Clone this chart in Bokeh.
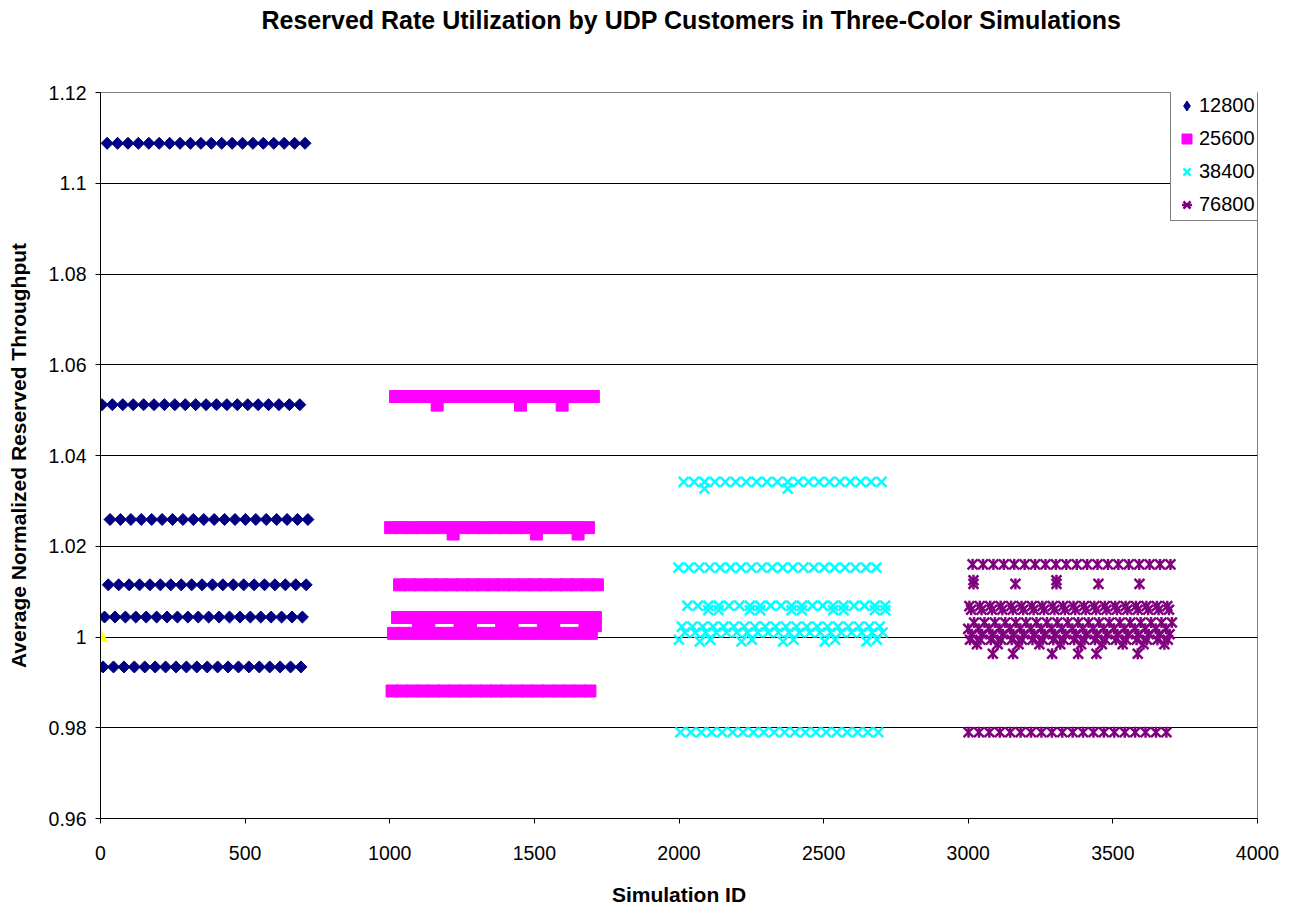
from bokeh.plotting import figure
from bokeh.models import (Range1d, FixedTicker, Legend, LegendItem, ColumnDataSource,
                          CustomJSTickFormatter, Title, CDSView, IndexFilter)
from bokeh.embed import file_html
from bokeh.resources import INLINE
import math

# ---------------- data ----------------
# simulation-ID grid inside one block (20 simulations per parameter line)
BASE_IDS = [0, 36, 72, 108, 144, 180, 216, 252, 288, 324,
            360, 396, 432, 468, 504, 540, 576, 612, 648, 684]

# 12800: (first simulation id, average normalized reserved throughput)
s12800_start = [23, 5, 33, 27, 14, 9]
s12800_value = [1.1088, 1.0512, 1.0259, 1.0115, 1.0044, 0.9934]
s12800_extra_id = []
s12800_extra_val = []

# 25600
s25600_start = [1020, 1003, 1034, 1027, 1013, 1008]
s25600_value = [1.0530, 1.0241, 1.0115, 1.0043, 1.0008, 0.9881]
s25600_extra_id = [1164, 1452, 1596, 1219, 1507, 1651,
                   1099, 1135, 1243, 1279, 1387, 1423, 1531, 1567, 1675, 1711]
s25600_extra_val = [1.0511, 1.0511, 1.0511, 1.0227, 1.0227, 1.0227,
                    1.0025, 1.0025, 1.0025, 1.0025, 1.0025, 1.0025, 1.0025, 1.0025, 1.0025, 1.0025]

# 38400
s38400_start = [2016, 1998, 2029, 2010, 2020, 2005]
s38400_value = [1.0342, 1.0153, 1.0069, 1.0023, 1.0010, 0.9790]
s38400_extra_id = [2088, 2376,
                   2101, 2137, 2245, 2281, 2389, 2425, 2533, 2569, 2677, 2713,
                   2000, 2072, 2108, 2216, 2252, 2360, 2396, 2504, 2540, 2648, 2684]
s38400_extra_val = [1.0327, 1.0327,
                    1.0059, 1.0059, 1.0059, 1.0059, 1.0059, 1.0059, 1.0059, 1.0059, 1.0059, 1.0059,
                    0.9994, 0.9990, 0.9994, 0.9990, 0.9994, 0.9990, 0.9994, 0.9990, 0.9994, 0.9990, 0.9994]

# 76800
s76800_start = [3015, 3004, 3010, 3020, 3000, 3012, 3006, 3001]
s76800_value = [1.0160, 1.0068, 1.0060, 1.0032, 1.0018, 1.0006, 0.9994, 0.9790]
s76800_extra_id = [3018, 3163, 3305, 3450, 3592, 3018, 3305,
                   3085, 3155, 3290, 3380, 3443, 3586,
                   3030, 3102, 3174, 3246, 3318, 3390, 3462, 3534, 3606, 3678]
s76800_extra_val = [1.0117, 1.0117, 1.0117, 1.0117, 1.0117, 1.0125, 1.0125,
                    0.9963, 0.9963, 0.9963, 0.9963, 0.9963, 0.9963,
                    0.9984, 0.9984, 0.9984, 0.9984, 0.9984, 0.9984, 0.9984, 0.9984, 0.9984, 0.9984]

# reference point
ref_id = [0]
ref_val = [1.0]

series_names = ["12800", "25600", "38400", "76800"]
y_ticks = [0.96, 0.98, 1.0, 1.02, 1.04, 1.06, 1.08, 1.1, 1.12]
x_ticks = [0, 500, 1000, 1500, 2000, 2500, 3000, 3500, 4000]
chart_title = "Reserved Rate Utilization by UDP Customers in Three-Color Simulations"


def build(starts, values, extra_ids, extra_vals):
    xs, ys = [], []
    for s, v in zip(starts, values):
        for b in BASE_IDS:
            xs.append(s + b)
            ys.append(v)
    xs += extra_ids
    ys += extra_vals
    return ColumnDataSource(dict(x=xs, y=ys))


src12800 = build(s12800_start, s12800_value, s12800_extra_id, s12800_extra_val)
src25600 = build(s25600_start, s25600_value, s25600_extra_id, s25600_extra_val)
src38400 = build(s38400_start, s38400_value, s38400_extra_id, s38400_extra_val)
src76800 = build(s76800_start, s76800_value, s76800_extra_id, s76800_extra_val)
srcref = ColumnDataSource(dict(x=ref_id, y=ref_val))

# ---------------- figure ----------------
FONT = "Liberation Sans"
W, H = 1290, 908
p = figure(width=W, height=H, output_backend="svg", toolbar_location=None, title=None,
           x_range=Range1d(0, 4000), y_range=Range1d(0.96, 1.12),
           min_border_left=100, min_border_right=W - 1257, min_border_top=92,
           min_border_bottom=H - 820,
           background_fill_color="white", border_fill_color="white")

# spacer between frame and title (closest to frame), then the title itself
spacer = Title(text=" ", text_font_size="1px", standoff=56)
p.add_layout(spacer, "above")
main_title = Title(text=chart_title, text_font=FONT, text_font_size="25px",
                   text_font_style="bold", text_color="black", align="left",
                   offset=161, standoff=0)
p.add_layout(main_title, "above")

p.outline_line_color = "#808080"
p.outline_line_width = 1

p.xgrid.visible = False
p.ygrid.grid_line_color = "black"
p.ygrid.grid_line_width = 1

p.xaxis.ticker = FixedTicker(ticks=x_ticks)
p.yaxis.ticker = FixedTicker(ticks=y_ticks)
p.yaxis.formatter = CustomJSTickFormatter(
    code="return tick.toFixed(2).replace(/0+$/, '').replace(/\\.$/, '');")

for ax in (p.xaxis[0], p.yaxis[0]):
    ax.axis_line_color = "black"
    ax.major_tick_line_color = "black"
    ax.major_tick_out = 5
    ax.major_tick_in = 0
    ax.minor_tick_line_color = None
    ax.major_label_text_font = FONT
    ax.major_label_text_font_size = "19.5px"
    ax.major_label_text_color = "black"
    ax.axis_label_text_font = FONT
    ax.axis_label_text_font_size = "21px"
    ax.axis_label_text_font_style = "bold"
    ax.axis_label_text_color = "black"

p.xaxis.axis_label = "Simulation ID"
p.xaxis.major_label_standoff = 22
p.xaxis.axis_label_standoff = 20
p.yaxis.axis_label = "Average Normalized Reserved Throughput"
p.yaxis.major_label_standoff = 9
p.yaxis.axis_label_standoff = 16

NAVY, MAGENTA, CYAN, PURPLE = "#000080", "#FF00FF", "#00FFFF", "#800080"

# legend proxy: a plain diamond drawn under the first 12800 point (hidden by it)
r1_leg = p.scatter("x", "y", source=src12800, view=CDSView(filter=IndexFilter([0])),
                   marker="diamond", size=11, fill_color=NAVY, line_color=NAVY)
p.scatter("x", "y", source=src12800, marker="square", size=8.5, angle=math.pi / 4,
          fill_color=NAVY, line_color=NAVY)
r2 = p.scatter("x", "y", source=src25600, marker="square", size=12,
               fill_color=MAGENTA, line_color=MAGENTA)
r3 = p.scatter("x", "y", source=src38400, marker="x", size=14,
               line_color=CYAN, line_width=2.5)
r4a = p.scatter("x", "y", source=src76800, marker="x", size=14,
                line_color=PURPLE, line_width=2.5)
r4b = p.scatter("x", "y", source=src76800, marker="dash", size=11, angle=math.pi / 2,
                line_color=PURPLE, line_width=2.5)
p.scatter("x", "y", source=srcref, marker="triangle", size=13,
          fill_color="#FFFF00", line_color="#FFFF00")

legend = Legend(items=[LegendItem(label=series_names[0], renderers=[r1_leg]),
                       LegendItem(label=series_names[1], renderers=[r2]),
                       LegendItem(label=series_names[2], renderers=[r3]),
                       LegendItem(label=series_names[3], renderers=[r4a, r4b])],
                location=(1070, 597))
legend.label_text_font = FONT
legend.label_text_font_size = "20px"
legend.label_text_color = "black"
legend.glyph_width = 25
legend.glyph_height = 25
legend.label_height = 25
legend.label_standoff = 0
legend.spacing = 8
legend.padding = 3
legend.margin = 0
legend.border_line_color = "black"
legend.border_line_width = 1
legend.background_fill_color = "white"
legend.background_fill_alpha = 1
p.add_layout(legend)

open("out.html", "w").write(file_html(p, INLINE))
